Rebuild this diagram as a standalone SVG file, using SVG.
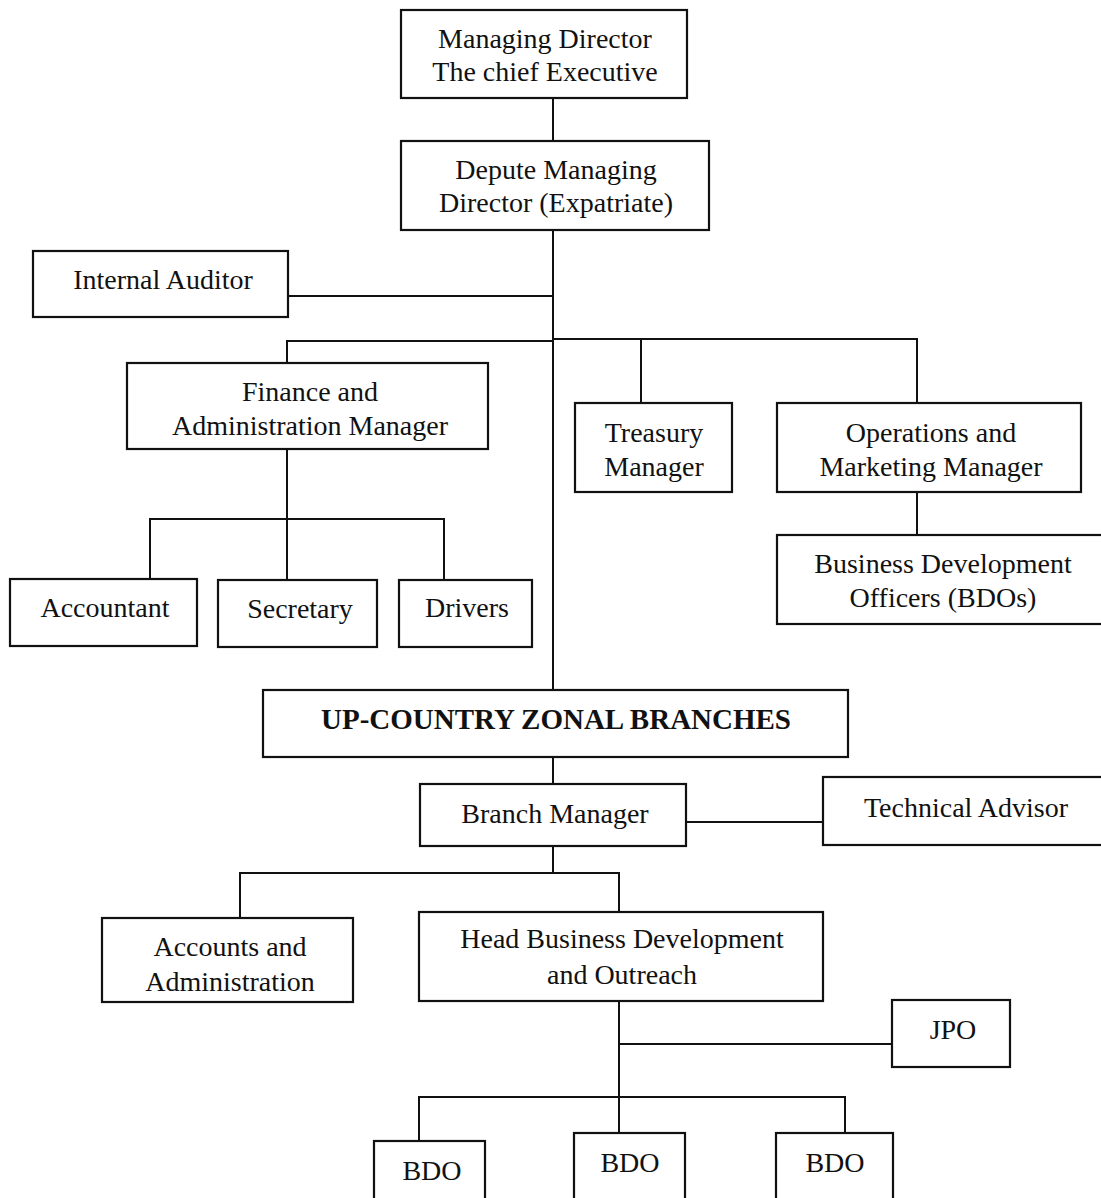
<svg xmlns="http://www.w3.org/2000/svg" width="1101" height="1198" viewBox="0 0 1101 1198">
<style>
.box{fill:#fff;stroke:#111;stroke-width:2.2}
.t{font-family:"Liberation Serif","Times New Roman",serif;font-size:28px;text-anchor:middle;fill:#111}
.b{font-weight:bold;font-size:29px}
.c{fill:none;stroke:#111;stroke-width:2}
</style>
<rect width="1101" height="1198" fill="#fff"/>
<g id="connectors">
<path class="c" d="M553 98V141"/>
<path class="c" d="M553 230V757"/>
<path class="c" d="M288 296H553"/>
<path class="c" d="M287 363V341H553"/>
<path class="c" d="M553 339H917V403"/>
<path class="c" d="M641 339V403"/>
<path class="c" d="M917 492V535"/>
<path class="c" d="M287 449V580"/>
<path class="c" d="M150 579V519H444V580"/>
<path class="c" d="M553 757V784"/>
<path class="c" d="M686 822H823"/>
<path class="c" d="M553 846V873"/>
<path class="c" d="M240 918V873H619V912"/>
<path class="c" d="M619 1001V1133"/>
<path class="c" d="M619 1044H892"/>
<path class="c" d="M419 1141V1097H845V1133"/>
</g>
<g id="md"><rect class="box" x="401" y="10" width="286" height="88"/><text class="t" x="545" y="48">Managing Director</text><text class="t" x="545" y="81">The chief Executive</text></g>
<g id="dmd"><rect class="box" x="401" y="141" width="308" height="89"/><text class="t" x="556" y="179">Depute Managing</text><text class="t" x="556" y="212">Director (Expatriate)</text></g>
<g id="auditor"><rect class="box" x="33" y="251" width="255" height="66"/><text class="t" x="163" y="289">Internal Auditor</text></g>
<g id="finance"><rect class="box" x="127" y="363" width="361" height="86"/><text class="t" x="310" y="401">Finance and</text><text class="t" x="310" y="435">Administration Manager</text></g>
<g id="treasury"><rect class="box" x="575" y="403" width="157" height="89"/><text class="t" x="654" y="442">Treasury</text><text class="t" x="654" y="476">Manager</text></g>
<g id="ops"><rect class="box" x="777" y="403" width="304" height="89"/><text class="t" x="931" y="442">Operations and</text><text class="t" x="931" y="476">Marketing Manager</text></g>
<g id="bdos"><rect class="box" x="777" y="535" width="340" height="89"/><text class="t" x="943" y="573">Business Development</text><text class="t" x="943" y="607">Officers (BDOs)</text></g>
<g id="accountant"><rect class="box" x="10" y="579" width="187" height="67"/><text class="t" x="105" y="617">Accountant</text></g>
<g id="secretary"><rect class="box" x="218" y="580" width="159" height="67"/><text class="t" x="300" y="618">Secretary</text></g>
<g id="drivers"><rect class="box" x="399" y="580" width="133" height="67"/><text class="t" x="467" y="617">Drivers</text></g>
<g id="zonal"><rect class="box" x="263" y="690" width="585" height="67"/><text class="t b" x="556" y="729">UP-COUNTRY ZONAL BRANCHES</text></g>
<g id="branch"><rect class="box" x="420" y="784" width="266" height="62"/><text class="t" x="555" y="823">Branch Manager</text></g>
<g id="tech"><rect class="box" x="823" y="777" width="290" height="68"/><text class="t" x="966" y="817">Technical Advisor</text></g>
<g id="accounts"><rect class="box" x="102" y="918" width="251" height="84"/><text class="t" x="230" y="956">Accounts and</text><text class="t" x="230" y="991">Administration</text></g>
<g id="headbd"><rect class="box" x="419" y="912" width="404" height="89"/><text class="t" x="622" y="948">Head Business Development</text><text class="t" x="622" y="984">and Outreach</text></g>
<g id="jpo"><rect class="box" x="892" y="1000" width="118" height="67"/><text class="t" x="953" y="1039">JPO</text></g>
<g id="bdo1"><rect class="box" x="374" y="1141" width="111" height="80"/><text class="t" x="432" y="1180">BDO</text></g>
<g id="bdo2"><rect class="box" x="574" y="1133" width="111" height="88"/><text class="t" x="630" y="1172">BDO</text></g>
<g id="bdo3"><rect class="box" x="776" y="1133" width="117" height="88"/><text class="t" x="835" y="1172">BDO</text></g>
</svg>
